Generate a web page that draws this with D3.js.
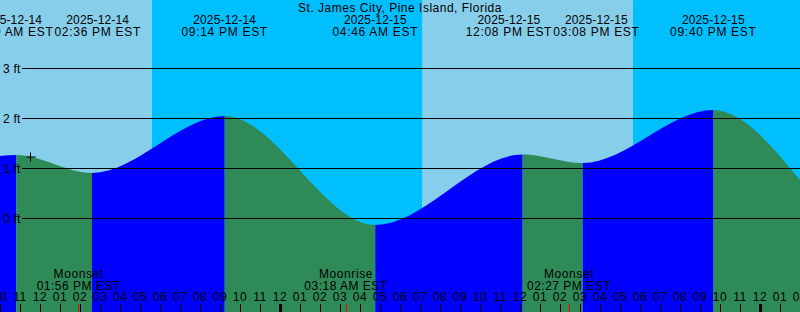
<!DOCTYPE html>
<html>
<head>
<meta charset="utf-8">
<script src="https://cdn.jsdelivr.net/npm/d3@7"></script>
<style>
  html, body { margin: 0; padding: 0; background: #fff; }
  svg { display: block; }
  text { font-family: "Liberation Sans", Arial, sans-serif; font-size: 12px; fill: #000; }
</style>
</head>
<body>
<svg id="chart" width="800" height="312"></svg>
<script>
// ---------- DATA ----------
const title = "St. James City, Pine Island, Florida";
const domainStart = "2025-12-14 10:00";
const domainEnd   = "2025-12-16 02:00";

// Tide extremes: time, height (ft), label date, label time
const tideTimes   = ["2025-12-14 10:49", "2025-12-14 14:36", "2025-12-14 21:14", "2025-12-15 04:46", "2025-12-15 12:08", "2025-12-15 15:08", "2025-12-15 21:40"];
const tideHeights = [1.27, 0.91, 2.05, -0.13, 1.28, 1.11, 2.17];
const tideDates   = ["2025-12-14", "2025-12-14", "2025-12-14", "2025-12-15", "2025-12-15", "2025-12-15", "2025-12-15"];
const tideLabels  = ["10:49 AM EST", "02:36 PM EST", "09:14 PM EST", "04:46 AM EST", "12:08 PM EST", "03:08 PM EST", "09:40 PM EST"];

// Levels at the chart edges
const edgeTimes   = ["2025-12-14 10:00", "2025-12-16 02:00"];
const edgeHeights = [1.25, 0.77];

// Sun events (day = light band)
const sunTimes = ["2025-12-14 17:35", "2025-12-15 07:08", "2025-12-15 17:39"];
const sunKinds = ["set", "rise", "set"];

// Moon events
const moonTimes  = ["2025-12-14 13:56", "2025-12-15 03:18", "2025-12-15 14:27"];
const moonKinds  = ["Moonset", "Moonrise", "Moonset"];
const moonLabels = ["01:56 PM EST", "03:18 AM EST", "02:27 PM EST"];

// Y grid levels
const levelTicks = [0, 1, 2, 3];

// Current-time marker
const markTime = "2025-12-14 11:30";
const markLevel = 1.22;

// ---------- SETUP ----------
const W = 800, H = 312;
const parse = d3.timeParse("%Y-%m-%d %H:%M");
const svg = d3.select("#chart");

const x = d3.scaleTime().domain([parse(domainStart), parse(domainEnd)]).range([0, W]);
const y = d3.scaleLinear().domain([0, 3]).range([218.5, 68.5]);

const C = { day: "#87CEEB", night: "#00BFFF", flood: "#0000FF", ebb: "#2E8B57" };

// ---------- BACKGROUND (day / night) ----------
const sunBounds = [x.domain()[0], ...sunTimes.map(parse), x.domain()[1]];
const firstIsDay = sunKinds[0] === "set";
for (let i = 0; i < sunBounds.length - 1; i++) {
  const isDay = (i % 2 === 0) === firstIsDay;
  svg.append("rect")
    .attr("x", x(sunBounds[i])).attr("y", 0)
    .attr("width", x(sunBounds[i + 1]) - x(sunBounds[i])).attr("height", H)
    .attr("fill", isDay ? C.day : C.night);
}

// ---------- TIDE AREA ----------
const pts = [
  { t: parse(edgeTimes[0]), h: edgeHeights[0] },
  ...tideTimes.map((d, i) => ({ t: parse(d), h: tideHeights[i] })),
  { t: parse(edgeTimes[1]), h: edgeHeights[1] }
];
const area = d3.area()
  .x(d => x(d.t)).y0(H).y1(d => y(d.h))
  .curve(d3.curveMonotoneX);

const defs = svg.append("defs");
const bounds = [x.domain()[0], ...tideTimes.map(parse), x.domain()[1]];
for (let i = 0; i < bounds.length - 1; i++) {
  // segment ending at a high tide = rising (flood), else falling (ebb)
  let rising;
  if (i < tideHeights.length) {
    const other = i > 0 ? tideHeights[i - 1] : tideHeights[i + 1];
    rising = tideHeights[i] > other;
  } else {
    rising = tideHeights[i - 1] < tideHeights[i - 2];
  }
  const id = "seg" + i;
  defs.append("clipPath").attr("id", id)
    .append("rect")
    .attr("x", x(bounds[i])).attr("y", 0)
    .attr("width", x(bounds[i + 1]) - x(bounds[i])).attr("height", H);
  svg.append("path")
    .datum(pts)
    .attr("d", area)
    .attr("clip-path", `url(#${id})`)
    .attr("fill", rising ? C.flood : C.ebb);
}

// ---------- GRID LINES ----------
levelTicks.forEach(v => {
  svg.append("line")
    .attr("x1", 22).attr("x2", W)
    .attr("y1", y(v)).attr("y2", y(v))
    .attr("stroke", "#000").attr("stroke-width", 1);
  svg.append("text")
    .attr("x", 3).attr("y", y(v) + 4)
    .attr("style", "letter-spacing:0.2px")
    .text(v + " ft");
});

// ---------- CURRENT MARKER ----------
const mx = Math.round(x(parse(markTime))) + 0.5, my = Math.round(y(markLevel));
svg.append("path")
  .attr("d", `M${mx - 4},${my}H${mx + 5}M${mx},${my - 4.5}V${my + 4.5}`)
  .attr("stroke", "#000").attr("stroke-width", 1).attr("fill", "none");

// ---------- TITLE ----------
svg.append("text")
  .attr("x", W / 2).attr("y", 12)
  .attr("text-anchor", "middle")
  .attr("style", "letter-spacing:0.5px")
  .text(title);

// ---------- TIDE LABELS (with overlap separation) ----------
const lblG = svg.append("g");
const labels = tideTimes.map((d, i) => {
  const g = lblG.append("g");
  const t1 = g.append("text").attr("text-anchor", "middle").attr("y", 23.5)
    .attr("style", "letter-spacing:0.15px").text(tideDates[i]);
  const t2 = g.append("text").attr("text-anchor", "middle").attr("y", 35.5)
    .attr("style", "letter-spacing:0.7px").text(tideLabels[i]);
  const w = Math.max(t1.node().getComputedTextLength(), t2.node().getComputedTextLength());
  return { g, t1, t2, cx: x(parse(d)), w };
});
for (let pass = 0; pass < 5; pass++) {
  for (let i = 0; i < labels.length - 1; i++) {
    const a = labels[i], b = labels[i + 1];
    const need = (a.w + b.w) / 2 + 1;
    const gap = b.cx - a.cx;
    if (gap < need) {
      const push = (need - gap) / 2;
      a.cx -= push; b.cx += push;
    }
  }
}
labels.forEach(l => { l.t1.attr("x", l.cx); l.t2.attr("x", l.cx); });

// ---------- HOUR AXIS ----------
const hours = d3.timeHour.range(x.domain()[0], d3.timeHour.offset(x.domain()[1], 1));
const fmtH = d3.timeFormat("%I");
hours.forEach(h => {
  const px = x(h);
  const isMid = h.getHours() === 0;
  svg.append("rect")
    .attr("x", isMid ? px - 1 : px).attr("y", 304)
    .attr("width", isMid ? 3 : 1).attr("height", 8)
    .attr("fill", "#000");
  svg.append("text")
    .attr("x", px).attr("y", 301)
    .attr("text-anchor", "middle")
    .attr("style", "letter-spacing:0.6px")
    .text(fmtH(h));
});

// ---------- MOON EVENTS ----------
moonTimes.forEach((d, i) => {
  const px = x(parse(d));
  svg.append("rect")
    .attr("x", Math.floor(px)).attr("y", 304)
    .attr("width", 1).attr("height", 8)
    .attr("fill", "#FF0000");
  svg.append("text")
    .attr("x", px).attr("y", 277.5)
    .attr("text-anchor", "middle")
    .attr("style", "letter-spacing:0.6px")
    .text(moonKinds[i]);
  svg.append("text")
    .attr("x", px).attr("y", 289.5)
    .attr("text-anchor", "middle")
    .attr("style", "letter-spacing:0.5px")
    .text(moonLabels[i]);
});
</script>
</body>
</html>
